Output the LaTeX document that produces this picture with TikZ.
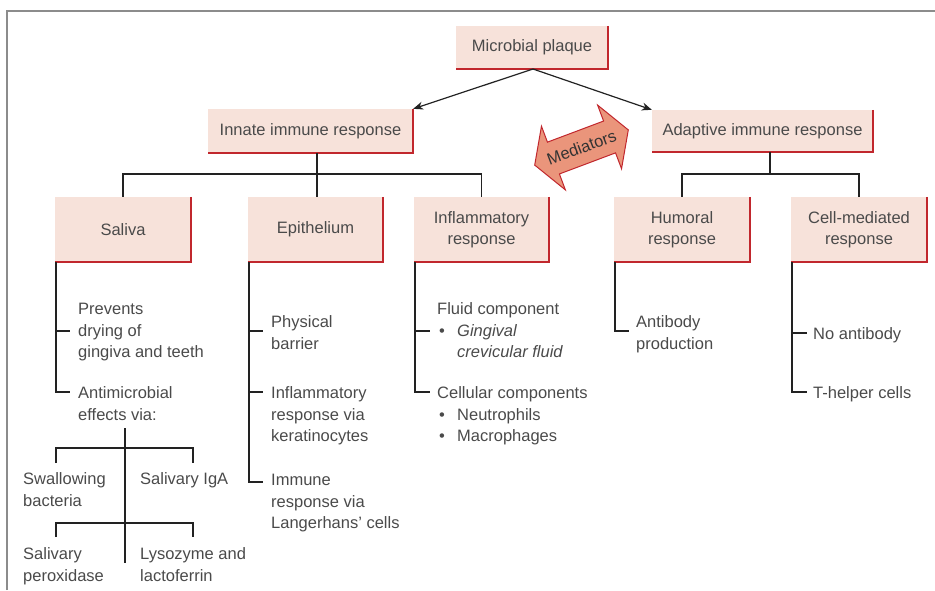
\documentclass[tikz,border=0pt]{standalone}
\usepackage{fontspec}
\setmainfont{Liberation Sans}
\usetikzlibrary{arrows.meta,calc}
\definecolor{boxfill}{HTML}{F7E2DA}
\definecolor{boxred}{HTML}{C1272D}
\definecolor{txt}{HTML}{4A4A4A}
\definecolor{medfill}{HTML}{EA957B}
\definecolor{lin}{HTML}{222222}
\definecolor{framegray}{HTML}{8C8C8C}
\begin{document}
\begin{tikzpicture}[x=1pt,y=-1pt,
  every node/.style={font=\fontsize{16.5}{21.5}\selectfont, text=txt},
  pbox/.style={fill=boxfill, inner sep=0pt, align=center},
  rededge/.style={draw=boxred, line width=2.3pt},
  conn/.style={draw=lin, line width=1.2pt},
  arr/.style={draw=lin, line width=1.2pt, -{Stealth[length=10pt,width=8pt]}},
  lbl/.style={anchor=base west, align=left, inner sep=0pt, yshift=-2pt}]
\useasboundingbox (0,0) rectangle (935,590);
% frame
\draw[framegray, line width=2pt] (7,590) -- (7,11) -- (935,11);

% boxes
\node[pbox, minimum width=152pt, minimum height=43pt] (plaque) at (532,47.5) {Microbial plaque};
\node[pbox, minimum width=205pt, minimum height=44pt] (innate) at (310.5,131) {Innate immune response};
\node[pbox, minimum width=221pt, minimum height=42pt] (adaptive) at (762.5,131) {Adaptive immune response};
\node[pbox, minimum width=136pt, minimum height=65pt] (saliva) at (123,229.5) {Saliva};
\node[pbox, minimum width=135pt, minimum height=65pt] (epith) at (315.5,229.5) {Epithelium};
\node[pbox, minimum width=135pt, minimum height=65pt] (inflam) at (481.5,229.5) {Inflammatory\\response};
\node[pbox, minimum width=136pt, minimum height=65pt] (humoral) at (682,229.5) {Humoral\\response};
\node[pbox, minimum width=136pt, minimum height=65pt] (cellmed) at (859,229.5) {Cell-mediated\\response};
\foreach \n in {plaque,innate,adaptive,saliva,epith,inflam,humoral,cellmed}
  \draw[rededge] (\n.north east) -- (\n.south east) -- (\n.south west);

% arrows from plaque
\coordinate (src) at (533,69);
\draw[arr] (src) -- (innate.north east);
\draw[arr] (src) -- (adaptive.north west);

% innate tree
\coordinate (ji) at (317,174);
\draw[conn] (innate.south -| ji) -- (ji);
\draw[conn] (saliva.north) |- (ji) -| (inflam.north);
\draw[conn] (ji) -- (epith.north -| ji);
% adaptive tree
\coordinate (ja) at (770,174);
\draw[conn] (adaptive.south -| ja) -- (ja);
\draw[conn] (humoral.north) |- (ja) -| (cellmed.north);

% mediators
\begin{scope}[shift={(581.5,147.5)}, rotate=20.6]
\draw[draw=boxred, fill=medfill, line width=1pt, line join=miter]
  (-50,0) -- (-30,34) -- (-30,17) -- (30,17) -- (30,34) -- (50,0)
  -- (30,-34) -- (30,-17) -- (-30,-17) -- (-30,-34) -- cycle;
\node[transform shape, inner sep=0pt, text=black!80, font=\fontsize{16.5}{20}\selectfont] (med) at (0,0) {Mediators};
\end{scope}

% saliva items (base = last line)
\node[lbl] (s1) at (78,355.5) {Prevents\\drying of\\gingiva and teeth};
\node[lbl] (s2) at (78,418) {Antimicrobial\\effects via:};
\coordinate (sa) at (56,331);
\coordinate (sb) at (56,392);
\draw[conn] (saliva.south west -| sa) -- (sb) -- (70,392);
\draw[conn] (sa) -- (70,331);

% saliva sub-tree
\node[lbl] (s3) at (23,504) {Swallowing\\bacteria};
\node[lbl] (s4) at (140,482.5) {Salivary IgA};
\node[lbl] (s5) at (23,579) {Salivary\\peroxidase};
\node[lbl] (s6) at (140,579) {Lysozyme and\\lactoferrin};
\coordinate (st) at (125,428);
\coordinate (sbot) at (125,563);
\draw[conn] (st) -- (sbot);
\draw[conn] (56,463) -- (56,448) -- (193,448) -- (193,463);
\draw[conn] (56,537) -- (56,523) -- (193,523) -- (193,537);

% epithelium items
\node[lbl] (e1) at (271,347) {Physical\\barrier};
\node[lbl] (e2) at (271,439.5) {Inflammatory\\response via\\keratinocytes};
\node[lbl] (e3) at (271,526.5) {Immune\\response via\\Langerhans’ cells};
\draw[conn] (epith.south west -| 249,0) -- (249,482) -- (263,482);
\draw[conn] (249,331) -- (263,331);
\draw[conn] (249,392) -- (263,392);

% inflammatory items
\node[lbl] (i1) at (437,355.5) {Fluid component\\\makebox[20pt][l]{\hspace{2pt}\textbullet}\textit{Gingival}\\\hspace*{20pt}\textit{crevicular fluid}};
\node[lbl] (i2) at (437,439.5) {Cellular components\\\makebox[20pt][l]{\hspace{2pt}\textbullet}Neutrophils\\\makebox[20pt][l]{\hspace{2pt}\textbullet}Macrophages};
\draw[conn] (inflam.south west -| 415,0) -- (415,392) -- (430,392);
\draw[conn] (415,331) -- (430,331);

% humoral
\node[lbl] (h1) at (636,347) {Antibody\\production};
\draw[conn] (humoral.south west -| 615,0) -- (615,331) -- (629,331);

% cell-mediated
\node[lbl] (c1) at (813,337.5) {No antibody};
\node[lbl] (c2) at (813,396.5) {T-helper cells};
\draw[conn] (cellmed.south west -| 792,0) -- (792,392) -- (807,392);
\draw[conn] (792,333) -- (807,333);
\end{tikzpicture}
\end{document}
